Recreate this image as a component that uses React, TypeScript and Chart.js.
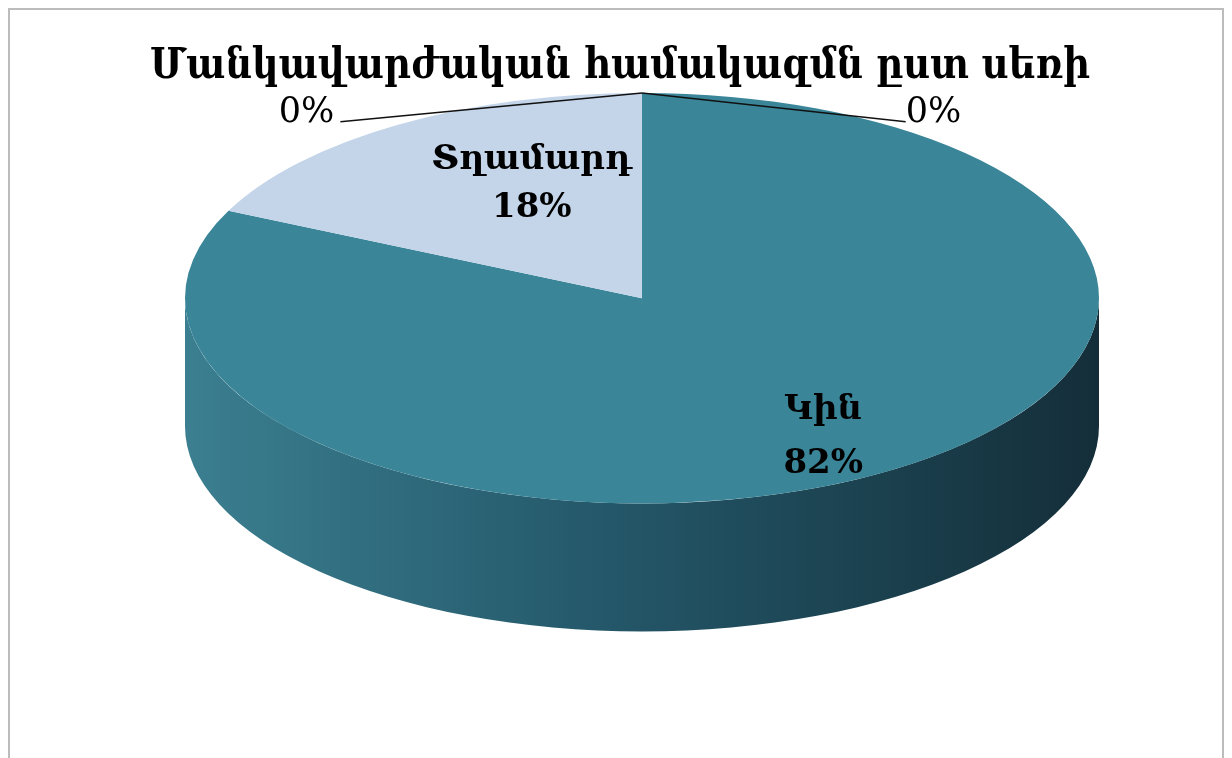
import React, { useEffect, useRef } from "react";
import { Chart, registerables } from "chart.js";

Chart.register(...registerables);

// ---- data ----
const TITLE = "Մանկավարժական համակազմն ըստ սեռի";
const CATEGORIES = ["", "Կին", "Տղամարդ", ""];
const VALUES = [0, 82, 18, 0];

// ---- style ----
const FONT = "'DejaVu Serif', serif";
const TOP_COLORS = ["#3a8598", "#3a8598", "#c4d5ea", "#c4d5ea"];
const SIDE_STOPS: string[][] = [
  ["#3b7f90", "#24586a", "#142e39"],
  ["#3b7f90", "#24586a", "#142e39"],
  ["#a9bcd2", "#8a9db4", "#6f8096"],
  ["#a9bcd2", "#8a9db4", "#6f8096"],
];
// label anchor as fraction of radii (x, y) and line gap
const LABEL_POS: number[][] = [
  [0.75, 0.75, 52],
  [0.74, 0.8, 54],
  [0.45, 0.66, 48],
  [0.75, 0.75, 52],
];
const TILT = 0.449;
const DEPTH = 128;

type Geom = { cx: number; cy: number; rx: number; ry: number; d: number };

function geom(chart: any): Geom {
  const a = chart.chartArea;
  const rx = (a.right - a.left) / 2;
  const ry = rx * TILT;
  return { cx: (a.left + a.right) / 2, cy: a.top + ry, rx, ry, d: DEPTH };
}

function drawSide(ctx: CanvasRenderingContext2D, g: Geom, a1: number, a2: number, i: number) {
  const grad = ctx.createLinearGradient(g.cx - g.rx, 0, g.cx + g.rx, 0);
  const s = SIDE_STOPS[i];
  grad.addColorStop(0, s[0]);
  grad.addColorStop(0.45, s[1]);
  grad.addColorStop(1, s[2]);
  ctx.save();
  ctx.beginPath();
  ctx.ellipse(g.cx, g.cy, g.rx, g.ry, 0, a1, a2, false);
  ctx.ellipse(g.cx, g.cy + g.d, g.rx, g.ry, 0, a2, a1, true);
  ctx.closePath();
  ctx.fillStyle = grad;
  ctx.fill();
  ctx.restore();
}

const pie3d = {
  id: "pie3d",
  beforeDatasetsDraw(chart: any) {
    const g = geom(chart);
    const ctx = chart.ctx as CanvasRenderingContext2D;
    const meta = chart.getDatasetMeta(0);
    meta.data.forEach((arc: any, i: number) => {
      const { startAngle, endAngle } = arc.getProps(["startAngle", "endAngle"], true);
      if (endAngle - startAngle <= 0) return;
      for (const k of [-2, 0, 2]) {
        const lo = Math.max(startAngle, k * Math.PI);
        const hi = Math.min(endAngle, k * Math.PI + Math.PI);
        if (hi > lo) drawSide(ctx, g, lo - k * Math.PI, hi - k * Math.PI, i);
      }
    });
  },
  beforeDatasetDraw(chart: any, args: any) {
    const g = geom(chart);
    const ctx = chart.ctx as CanvasRenderingContext2D;
    const arc = args.meta.data[0];
    const r = arc.outerRadius || 1;
    ctx.save();
    ctx.translate(g.cx, g.cy);
    ctx.scale(g.rx / r, g.ry / r);
    ctx.translate(-arc.x, -arc.y);
  },
  afterDatasetDraw(chart: any) {
    chart.ctx.restore();
  },
  afterDatasetsDraw(chart: any) {
    const g = geom(chart);
    const ctx = chart.ctx as CanvasRenderingContext2D;
    const meta = chart.getDatasetMeta(0);
    const data = chart.data.datasets[0].data as number[];
    const labels = chart.data.labels as string[];
    const total = data.reduce((a, b) => a + b, 0);
    ctx.save();
    ctx.fillStyle = "#000";
    meta.data.forEach((arc: any, i: number) => {
      const { startAngle, endAngle } = arc.getProps(["startAngle", "endAngle"], true);
      const mid = (startAngle + endAngle) / 2;
      const pct = Math.round((data[i] / total) * 100) + "%";
      if (data[i] > 0) {
        const [fx, fy, gap] = LABEL_POS[i];
        const x = g.cx + fx * g.rx * Math.cos(mid);
        const y = g.cy + fy * g.ry * Math.sin(mid);
        ctx.textAlign = "center";
        ctx.textBaseline = "middle";
        ctx.font = `bold 34px ${FONT}`;
        if (labels[i]) {
          ctx.fillText(labels[i], x, y - gap / 2);
          ctx.fillText(pct, x, y + gap / 2);
        } else {
          ctx.fillText(pct, x, y);
        }
      } else {
        const px = g.cx + g.rx * Math.cos(mid);
        const py = g.cy + g.ry * Math.sin(mid);
        const right = startAngle < Math.PI / 2;
        const ex = right ? g.cx + 0.577 * g.rx : g.cx - 0.66 * g.rx;
        const ey = py + 0.14 * g.ry;
        ctx.beginPath();
        ctx.moveTo(px, py);
        ctx.lineTo(ex, ey);
        ctx.strokeStyle = "#111";
        ctx.lineWidth = 1.5;
        ctx.stroke();
        ctx.font = `35px ${FONT}`;
        ctx.textBaseline = "alphabetic";
        ctx.textAlign = right ? "left" : "right";
        ctx.fillText((labels[i] ? labels[i] + " " : "") + pct, right ? ex : ex - 6, ey);
      }
    });
    ctx.restore();
  },
  afterDraw(chart: any) {
    const ctx = chart.ctx as CanvasRenderingContext2D;
    ctx.save();
    ctx.fillStyle = "#000";
    ctx.font = `bold 43px ${FONT}`;
    ctx.textAlign = "center";
    ctx.textBaseline = "alphabetic";
    ctx.fillText(TITLE, chart.width / 2 + 4, 68, 940);
    ctx.restore();
  },
};

export default function App() {
  const ref = useRef<HTMLCanvasElement | null>(null);
  useEffect(() => {
    if (!ref.current) return;
    const chart = new Chart(ref.current, {
      type: "pie",
      data: {
        labels: CATEGORIES,
        datasets: [
          {
            data: VALUES,
            backgroundColor: TOP_COLORS,
            borderWidth: 0,
            clip: false as any,
          },
        ],
      },
      options: {
        responsive: false,
        animation: false,
        layout: { padding: { left: 175, right: 123, top: 83, bottom: 0 } },
        plugins: {
          legend: { display: false },
          tooltip: { enabled: false },
          title: { display: false },
        },
      },
      plugins: [pie3d],
    });
    return () => chart.destroy();
  }, []);
  return (
    <div
      style={{
        width: 1212,
        height: 750,
        border: "2px solid #bcbcbc",
        background: "#fff",
      }}
    >
      <canvas ref={ref} width={1212} height={750} style={{ display: "block" }} />
    </div>
  );
}
